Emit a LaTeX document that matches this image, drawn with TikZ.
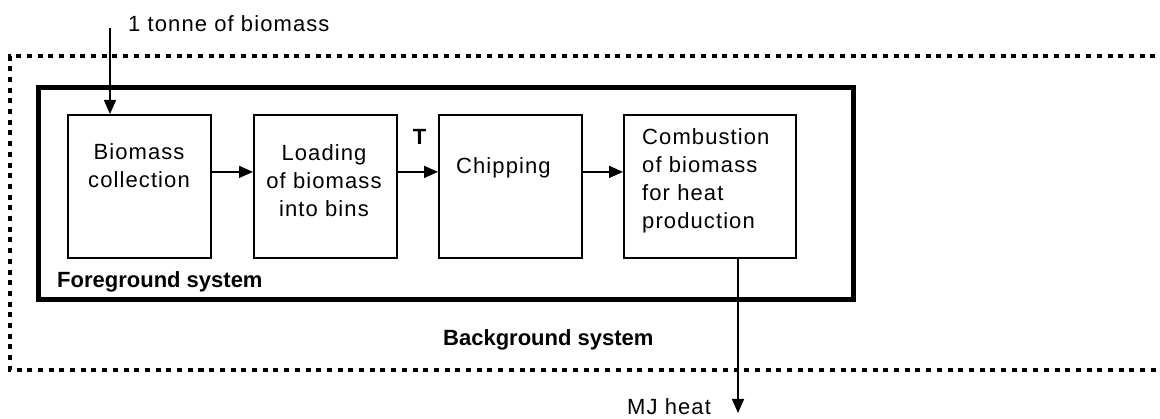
\documentclass[tikz,border=0pt]{standalone}
\usepackage{fontspec}
\setmainfont{Liberation Sans}
\newfontfamily\regfont[LetterSpace=5]{Liberation Sans}
\usetikzlibrary{arrows.meta}
\begin{document}
\begin{tikzpicture}[x=1pt,y=1pt,
  procbox/.style={draw, line width=1.8pt, minimum width=#1, minimum height=143pt, inner sep=0pt, anchor=north west},
  reg/.style={font=\regfont\fontsize{22}{28}\selectfont, inner sep=0pt},
  boldlab/.style={font=\bfseries\fontsize{22}{28}\selectfont, inner sep=0pt},
  arr/.style={line width=1.6pt, -{Triangle[length=14pt,width=12pt]}},
  frame/.style={line width=5pt},
  dotframe/.style={line width=4.5pt, dash pattern=on 5pt off 5.7pt}
]
\useasboundingbox (0,0) rectangle (1160,-419);
% background system (dotted)
\draw[dotframe] (1166,-56) -- (10,-56) -- (10,-370) -- (1166,-370);
% foreground system
\draw[frame] (38.5,-88) rectangle (853,-299.5);
% process boxes
\node[procbox=143pt] (b1) at (67,-114) {};
\node[procbox=143pt] (b2) at (253,-114) {};
\node[procbox=143pt] (b3) at (438,-114) {};
\node[procbox=172pt] (b4) at (623,-114) {};
% box texts (base anchor = baseline of last line)
\node[reg, align=center, anchor=base] (t1) at (139,-188) {Biomass\\collection};
\node[reg, align=center, anchor=base] (t2) at (324,-217) {Loading\\of biomass\\into bins};
\node[reg, anchor=base west] (t3) at (456,-174) {Chipping};
\node[reg, align=left, anchor=base west] (t4) at (642,-229) {Combustion\\of biomass\\for heat\\production};
% labels
\node[reg, anchor=base west] (lin) at (128,-32) {1 tonne of biomass};
\node[boldlab, anchor=base] (lT) at (419.5,-145) {T};
\node[boldlab, anchor=base west] (lfg) at (57,-288) {Foreground system};
\node[boldlab, anchor=base west] (lbg) at (443,-346) {Background system};
\node[reg, anchor=base west] (lout) at (627,-415) {MJ heat};
% connectors
\coordinate (cin) at (110,-28);
\coordinate (cout) at (738,-413);
\draw[arr] (cin) -- (cin |- b1.north);
\draw[arr] ([yshift=14.5pt]b1.east) -- ([yshift=14.5pt]b2.west);
\draw[arr] ([yshift=14.5pt]b2.east) -- ([yshift=14.5pt]b3.west);
\draw[arr] ([yshift=14.5pt]b3.east) -- ([yshift=14.5pt]b4.west);
\draw[arr] (cout |- b4.south) -- (cout);
\end{tikzpicture}
\end{document}
